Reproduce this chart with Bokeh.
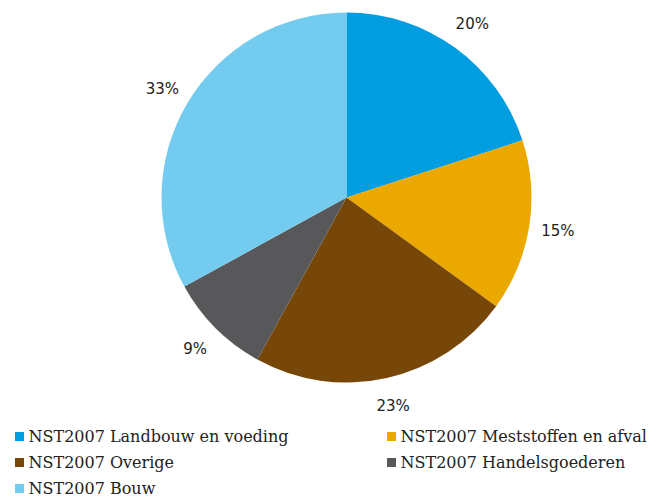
import math
from bokeh.plotting import figure
from bokeh.models import Range1d, ColumnDataSource
from bokeh.core.properties import value
from bokeh.embed import file_html
from bokeh.resources import INLINE

categories = ["NST2007 Landbouw en voeding", "NST2007 Meststoffen en afval",
              "NST2007 Overige", "NST2007 Handelsgoederen", "NST2007 Bouw"]
shares = [20, 15, 23, 9, 33]
labels = ["20%", "15%", "23%", "9%", "33%"]
colors = ["#009EE0", "#EBA900", "#774709", "#58585A", "#73CCF0"]

W, H = 649, 497
p = figure(width=W, height=H, output_backend="svg", toolbar_location=None,
           x_range=Range1d(0, W), y_range=Range1d(0, H), min_border=0)
p.axis.visible = False
p.grid.visible = False
p.outline_line_color = None
p.background_fill_color = "white"

cx, cy, r = 346, H - 197, 185
total = sum(shares)
starts, ends, lx, ly = [], [], [], []
cum = 0
for s in shares:
    a0 = math.pi / 2 - 2 * math.pi * cum / total
    a1 = math.pi / 2 - 2 * math.pi * (cum + s) / total
    starts.append(a0)
    ends.append(a1)
    mid = (a0 + a1) / 2
    lx.append(cx + 214 * math.cos(mid))
    ly.append(cy + 214 * math.sin(mid))
    cum += s

src = ColumnDataSource(dict(start=starts, end=ends, color=colors, lx=lx, ly=ly, label=labels))
p.wedge(x=cx, y=cy, radius=r, start_angle="start", end_angle="end", direction="clock",
        fill_color="color", line_color=None, source=src)
p.text(x="lx", y="ly", text="label", source=src, text_align="center", text_baseline="middle",
       text_font=value("DejaVu Sans"), text_font_size="15px", text_color="#222222")

# legend
lgx, lgy = [], []
for i, c in enumerate(categories):
    col = i % 2
    row = i // 2
    lgx.append(19 + col * 372)
    lgy.append(H - (436 + row * 26))
lsrc = ColumnDataSource(dict(x=lgx, y=lgy, color=colors, name=categories,
                             tx=[x + 9 for x in lgx]))
p.rect(x="x", y="y", width=9, height=9, fill_color="color", line_color=None, source=lsrc)
p.text(x="tx", y="y", text="name", source=lsrc, text_align="left", text_baseline="middle",
       text_font=value("DejaVu Serif"), text_font_size="16px", text_color="#222222")

open("out.html", "w").write(file_html(p, INLINE))
